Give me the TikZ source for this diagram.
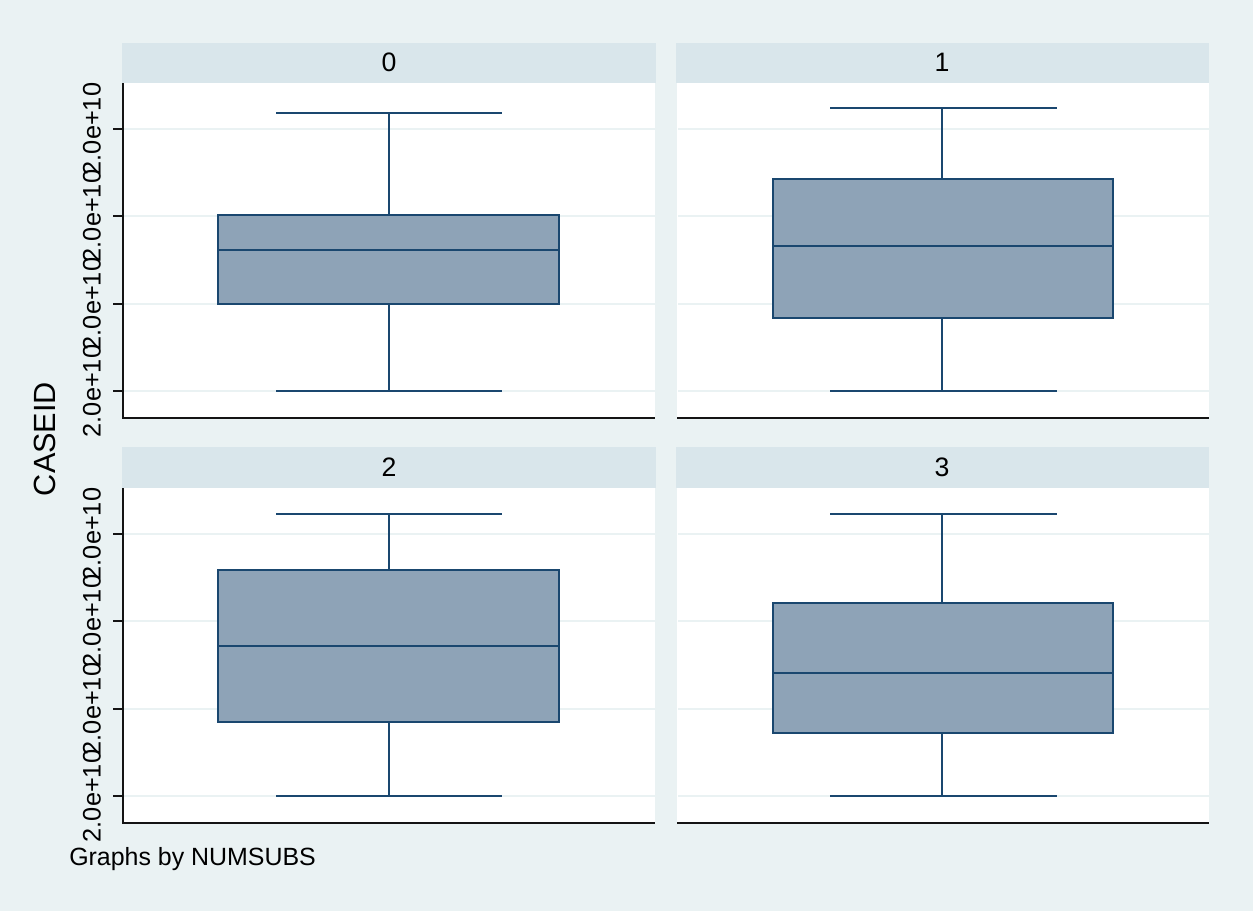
\documentclass[tikz,border=0pt]{standalone}
\usepackage{fontspec}
\setmainfont{Liberation Sans}
\definecolor{bgc}{RGB}{234,242,243}
\definecolor{hdr}{RGB}{217,230,235}
\definecolor{boxfill}{RGB}{142,163,183}
\definecolor{boxline}{RGB}{26,71,111}
\definecolor{gridc}{RGB}{234,242,243}
\definecolor{axisc}{RGB}{20,20,20}
\tikzset{
  boxst/.style={fill=boxfill, draw=boxline, line width=1.7pt},
  whisk/.style={draw=boxline, line width=1.5pt},
  gridst/.style={draw=gridc, line width=1.5pt},
  axisst/.style={draw=axisc, line width=1.4pt},
  ticklab/.style={font=\fontsize{19pt}{21pt}\selectfont, rotate=90, inner sep=0pt},
  hdrlab/.style={font=\fontsize{20pt}{22pt}\selectfont, inner sep=0pt},
}
\begin{document}
\begin{tikzpicture}[x=0.75pt,y=-0.75pt]
\useasboundingbox (0,0) rectangle (1253,911);
\fill[bgc] (0,0) rectangle (1253,911);

% ---------- panel backgrounds ----------
\fill[hdr] (122,43) rectangle (656,83);
\fill[white] (123,83) rectangle (655,418);
\fill[hdr] (676,43) rectangle (1209,83);
\fill[white] (677,83) rectangle (1209,418);
\fill[hdr] (122,447) rectangle (656,488);
\fill[white] (123,488) rectangle (655,823);
\fill[hdr] (676,447) rectangle (1209,488);
\fill[white] (677,488) rectangle (1209,823);

% ---------- grid lines ----------
\foreach \y in {129,216,304,391,534,621,709,796} {
  \draw[gridst] (124,\y) -- (655,\y);
  \draw[gridst] (678,\y) -- (1209,\y);
}

% ---------- header labels ----------
\node[hdrlab] (h0) at (389,62) {0};
\node[hdrlab] (h1) at (942,62) {1};
\node[hdrlab] (h2) at (389,467) {2};
\node[hdrlab] (h3) at (942,467) {3};

% ---------- box plots ----------
% top-left
\draw[whisk] (389,113) -- (389,215);
\draw[whisk] (276,113) -- (502,113);
\draw[whisk] (389,304) -- (389,391);
\draw[whisk] (276,391) -- (502,391);
\draw[boxst] (218,215) rectangle (559,304);
\draw[whisk] (218,250) -- (559,250);
% top-right
\draw[whisk] (942,108) -- (942,179);
\draw[whisk] (830,108) -- (1057,108);
\draw[whisk] (942,318) -- (942,391);
\draw[whisk] (830,391) -- (1057,391);
\draw[boxst] (773,179) rectangle (1113,318);
\draw[whisk] (773,246) -- (1113,246);
% bottom-left
\draw[whisk] (389,514) -- (389,570);
\draw[whisk] (276,514) -- (502,514);
\draw[whisk] (389,722) -- (389,796);
\draw[whisk] (276,796) -- (502,796);
\draw[boxst] (218,570) rectangle (559,722);
\draw[whisk] (218,646) -- (559,646);
% bottom-right
\draw[whisk] (942,514) -- (942,603);
\draw[whisk] (830,514) -- (1057,514);
\draw[whisk] (942,733) -- (942,796);
\draw[whisk] (830,796) -- (1057,796);
\draw[boxst] (773,603) rectangle (1113,733);
\draw[whisk] (773,673) -- (1113,673);

% ---------- axes ----------
\draw[axisst] (123,83) -- (123,418) -- (655,418);
\draw[axisst] (677,418) -- (1209,418);
\draw[axisst] (123,488) -- (123,823) -- (655,823);
\draw[axisst] (677,823) -- (1209,823);
\foreach \y in {129,216,304,391,534,621,709,796} {
  \draw[axisst] (113,\y) -- (123,\y);
  \node[ticklab] at (92,\y) {2.0e+10};
}

% ---------- titles ----------
\node[font=\fontsize{23pt}{25pt}\selectfont, rotate=90, inner sep=0pt] (ytitle) at (45,439) {CASEID};
\node[font=\fontsize{18.7pt}{20pt}\selectfont, inner sep=0pt, anchor=west] (note) at (69,859) {Graphs by NUMSUBS};
\end{tikzpicture}
\end{document}
